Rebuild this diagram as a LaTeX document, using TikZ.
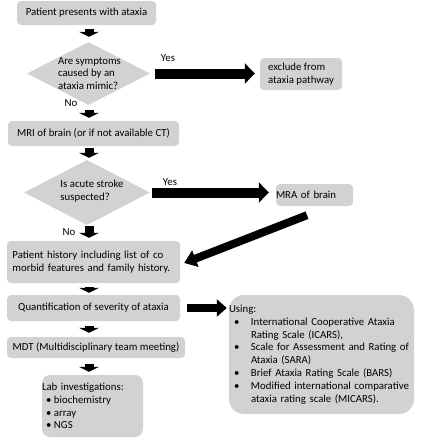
\documentclass[tikz,border=0pt]{standalone}
\usepackage{fontspec}
\setmainfont{Carlito}
\usepackage{tikz}
\usetikzlibrary{shapes.geometric, arrows.meta, positioning, calc}

\definecolor{boxgray}{RGB}{210,210,210}

\tikzset{
    stepbox/.style={fill=boxgray, rounded corners=4pt, inner sep=0pt, align=center},
    decision/.style={diamond, fill=boxgray, inner sep=0pt},
    downarrow/.style={line width=9pt, -{Triangle[width=20pt,length=5pt]}},
    sidearrow/.style={line width=10pt, -{Triangle[width=20pt,length=10pt]}},
    txt/.style={font=\fontsize{10.8}{12.8}\selectfont}
}

\begin{document}
\begin{tikzpicture}[x=1pt, y=-1pt, txt]
\useasboundingbox (0,0) rectangle (423,440);

% Main column
\node[stepbox, minimum width=139pt, minimum height=24pt] (start) at (86.5,13) {Patient presents with ataxia};
\node[decision, minimum width=123pt, minimum height=63pt] (mimic) at (88.5,73.5) {};
\node[align=left] (mimictxt) at (89.5,73.5) {Are symptoms\\caused by an\\ataxia mimic?};
\node[stepbox, minimum width=171pt, minimum height=25pt] (mri) at (93.5,133.5) {MRI of brain (or if not available CT)};
\node[decision, minimum width=126pt, minimum height=65pt] (stroke) at (87,192.5) {};
\node[align=left] (stroketxt) at (92,191) {Is acute stroke\\suspected?};
\node[stepbox, align=left, inner xsep=5.5pt, text width=162pt, minimum height=42pt] (history) at (93.5,262)
    {\mbox{Patient history including list of co}\\\mbox{morbid features and family history.}};
\node[stepbox, minimum width=173pt, minimum height=26pt] (quant) at (93.5,308) {Quantification of severity of ataxia};
\node[stepbox, minimum width=178pt, minimum height=21pt] (mdt) at (96,347.5) {MDT (Multidisciplinary team meeting)};
\node[stepbox, rounded corners=8pt, align=left, text width=101pt, minimum height=62pt] (lab) at (92.5,406)
    {Lab investigations:\\
     \hspace*{4pt}\makebox[8pt][l]{\textbullet}biochemistry\\
     \hspace*{4pt}\makebox[8pt][l]{\textbullet}array\\
     \hspace*{4pt}\makebox[8pt][l]{\textbullet}NGS};

% Side boxes
\node[stepbox, align=left, minimum width=82pt, minimum height=32pt] (exclude) at (301,74) {exclude from\\ataxia pathway};
\node[stepbox, align=left, text width=77pt, minimum height=22pt] (mra) at (314.5,195) {MRA of brain};
\node[stepbox, rounded corners=15pt, align=left, text width=185pt, minimum height=119pt] (using) at (321.5,354.5)
    {Using:\\
     \hspace*{5pt}\makebox[17pt][l]{\textbullet}\mbox{International Cooperative Ataxia}\\
     \hspace*{22pt}\mbox{Rating Scale (ICARS),}\\
     \hspace*{5pt}\makebox[17pt][l]{\textbullet}\mbox{Scale for Assessment and Rating of}\\
     \hspace*{22pt}\mbox{Ataxia (SARA)}\\
     \hspace*{5pt}\makebox[17pt][l]{\textbullet}\mbox{Brief Ataxia Rating Scale (BARS)}\\
     \hspace*{5pt}\makebox[17pt][l]{\textbullet}\mbox{Modified international comparative}\\
     \hspace*{22pt}\mbox{ataxia rating scale (MICARS).}};

% Down arrows
\coordinate (axis) at (89,0);
\foreach \a/\b/\s/\e in {start/mimic/4/5, mimic/mri/5/3, mri/stroke/2/2, stroke/history/1/3,
                          history/quant/4/2, quant/mdt/5/4, mdt/lab/6/3} {
    \draw[downarrow, shorten <=\s pt, shorten >=\e pt] (axis |- \a.south) -- (axis |- \b.north);
}

% Yes / No branches
\draw[sidearrow, shorten <=5pt, shorten >=5pt] (mimic.east) -- (mimic.east -| exclude.west);
\draw[sidearrow, shorten <=2pt, shorten >=7pt] (stroke.east) -- (stroke.east -| mra.west);
\draw[line width=8pt, -{Triangle[width=17pt,length=12pt]}] ([xshift=-7.5pt, yshift=-9pt]mra.south) -- ([xshift=4pt, yshift=-1pt]history.east);
\draw[line width=8pt, -{Triangle[width=17pt,length=10pt]}, shorten <=7pt, shorten >=2pt] (quant.east) -- (quant.east -| using.west);

\node (yes1) at (168,58) {Yes};
\node (no1) at (71,103) {No};
\node (yes2) at (170,182) {Yes};
\node (no2) at (69,232) {No};
\end{tikzpicture}
\end{document}
